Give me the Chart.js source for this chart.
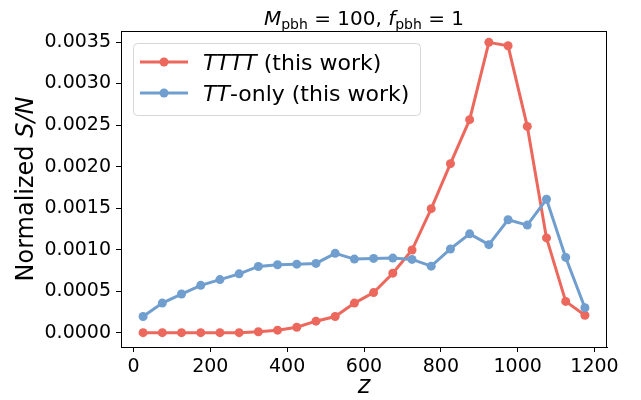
<!DOCTYPE html>
<html>
<head>
<meta charset="utf-8">
<script src="https://cdn.jsdelivr.net/npm/chart.js@4.4.1/dist/chart.umd.min.js"></script>
<style>
  html, body { margin: 0; padding: 0; background: #fff; }
</style>
</head>
<body>
<canvas id="snChart" width="641" height="400"></canvas>
<script>
// redshift bin centres and normalised S/N per bin
const zBins = [25, 75, 125, 175, 225, 275, 325, 375, 425, 475, 525, 575,
               625, 675, 725, 775, 825, 875, 925, 975, 1025, 1075, 1125, 1175];
const snTTTT = [0.0, 0.0, 0.0, 0.0, 0.0, 0.0, 0.00001, 0.00003, 0.000065, 0.000138, 0.000194, 0.000356,
                0.000482, 0.000716, 0.000995, 0.001493, 0.002035, 0.002565, 0.003496, 0.003455, 0.002484, 0.001141, 0.000376, 0.00021];
const snTTonly = [0.000194, 0.000356, 0.000465, 0.00057, 0.000639, 0.000708, 0.000797, 0.000817, 0.000825, 0.000834, 0.000955, 0.000886,
                  0.000894, 0.000898, 0.000882, 0.000801, 0.001008, 0.00119, 0.00106, 0.00136, 0.001295, 0.001606, 0.000906, 0.0003];
const xTicks = [0, 200, 400, 600, 800, 1000, 1200];
const yTicks = [0, 0.0005, 0.001, 0.0015, 0.002, 0.0025, 0.003, 0.0035];

const RED = 'rgb(236,104,93)';
const BLUE = 'rgb(111,158,207)';
const FONT = '"DejaVu Sans", sans-serif';

// little helper for mathtext-ish labels (italic bits, subscripts)
function richWidth(ctx, segs, size) {
  let w = 0;
  for (const s of segs) {
    const sz = s.sub ? size * 0.7 : size;
    ctx.font = (s.it ? 'italic ' : '') + sz + 'px ' + FONT;
    w += ctx.measureText(s.t).width;
  }
  return w;
}
function drawRich(ctx, segs, x, y, size, align) {
  let cx = x;
  if (align === 'center') cx = x - richWidth(ctx, segs, size) / 2;
  ctx.textAlign = 'left';
  ctx.textBaseline = 'alphabetic';
  for (const s of segs) {
    const sz = s.sub ? size * 0.7 : size;
    ctx.font = (s.it ? 'italic ' : '') + sz + 'px ' + FONT;
    ctx.fillText(s.t, cx, y + (s.sub ? size * 0.2 : 0));
    cx += ctx.measureText(s.t).width;
  }
}

const decorations = {
  id: 'decorations',
  afterDraw(chart) {
    const ctx = chart.ctx;
    const a = chart.chartArea;
    ctx.save();
    ctx.fillStyle = '#000';

    // box around the axes
    ctx.strokeStyle = '#000';
    ctx.lineWidth = 1;
    ctx.strokeRect(a.left + 0.5, a.top + 0.5, a.right - a.left - 1, a.bottom - a.top);

    // title
    const cx = (a.left + a.right) / 2;
    drawRich(ctx, [
      { t: 'M', it: true }, { t: 'pbh', sub: true }, { t: ' = 100, ' },
      { t: 'f', it: true }, { t: 'pbh', sub: true }, { t: ' = 1' }
    ], cx, 25, 20, 'center');

    // axis titles
    drawRich(ctx, [{ t: 'z', it: true }], cx, 393, 24, 'center');
    ctx.save();
    ctx.translate(33, (a.top + a.bottom) / 2);
    ctx.rotate(-Math.PI / 2);
    drawRich(ctx, [{ t: 'Normalized ' }, { t: 'S/N', it: true }], 0, 0, 24, 'center');
    ctx.restore();

    // legend
    const lx = 133, ly = 43, lw = 287, lh = 72;
    ctx.beginPath();
    ctx.roundRect(lx + 0.5, ly + 0.5, lw, lh, 4);
    ctx.fillStyle = 'rgba(255,255,255,0.8)';
    ctx.fill();
    ctx.strokeStyle = '#d6d6d6';
    ctx.stroke();
    const rows = [
      { color: RED, y: 62, segs: [{ t: 'TTTT', it: true }, { t: ' (this work)' }] },
      { color: BLUE, y: 93, segs: [{ t: 'TT', it: true }, { t: '-only (this work)' }] }
    ];
    for (const r of rows) {
      ctx.strokeStyle = r.color;
      ctx.lineWidth = 3;
      ctx.beginPath();
      ctx.moveTo(140, r.y);
      ctx.lineTo(188, r.y);
      ctx.stroke();
      ctx.fillStyle = r.color;
      ctx.beginPath();
      ctx.arc(164, r.y, 4.5, 0, Math.PI * 2);
      ctx.fill();
      ctx.fillStyle = '#000';
      drawRich(ctx, r.segs, 203, r.y + 8, 22, 'left');
    }
    ctx.restore();
  }
};

new Chart('snChart', {
  type: 'line',
  data: {
    datasets: [
      {
        label: 'TTTT (this work)',
        data: zBins.map((z, i) => ({ x: z, y: snTTTT[i] })),
        borderColor: RED, backgroundColor: RED,
        borderWidth: 3, pointRadius: 4.5, pointBorderWidth: 0,
        tension: 0, order: 2
      },
      {
        label: 'TT-only (this work)',
        data: zBins.map((z, i) => ({ x: z, y: snTTonly[i] })),
        borderColor: BLUE, backgroundColor: BLUE,
        borderWidth: 3, pointRadius: 4.5, pointBorderWidth: 0,
        tension: 0, order: 1
      }
    ]
  },
  options: {
    responsive: false,
    animation: false,
    devicePixelRatio: 1,
    layout: { padding: { top: 31, right: 34, left: 0, bottom: 0 } },
    plugins: {
      legend: { display: false },
      title: { display: false },
      tooltip: { enabled: false }
    },
    scales: {
      x: {
        type: 'linear',
        min: -32.5, max: 1232.5,
        afterBuildTicks: s => { s.ticks = xTicks.map(v => ({ value: v })); },
        afterFit: s => { s.height = 53; },
        grid: { drawOnChartArea: false, tickLength: 5, color: '#000' },
        border: { color: '#000', width: 1 },
        ticks: { font: { family: FONT, size: 19 }, color: '#000', padding: 4, maxRotation: 0, autoSkip: false,
                 callback: v => String(v) }
      },
      y: {
        type: 'linear',
        min: -0.000173, max: 0.003633,
        afterBuildTicks: s => { s.ticks = yTicks.map(v => ({ value: v })); },
        afterFit: s => { s.width = 121; },
        grid: { drawOnChartArea: false, tickLength: 5, color: '#000' },
        border: { color: '#000', width: 1 },
        ticks: { font: { family: FONT, size: 19 }, color: '#000', padding: 5, autoSkip: false,
                 callback: v => v.toFixed(4) }
      }
    }
  },
  plugins: [decorations]
});
</script>
</body>
</html>
